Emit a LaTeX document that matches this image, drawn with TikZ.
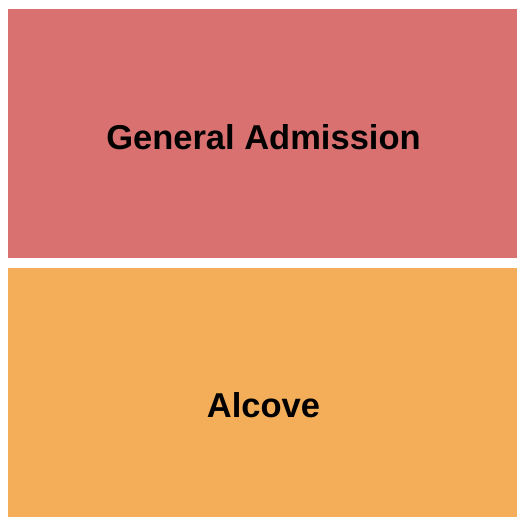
\documentclass[tikz,border=0pt]{standalone}
\usepackage{fontspec}
\setmainfont{Liberation Sans}
\definecolor{gacol}{HTML}{D87170}
\definecolor{alcol}{HTML}{F4AE5A}
\tikzset{
  section/.style={draw=none, inner sep=0pt, outer sep=0pt},
  label/.style={font=\fontsize{34.5}{40}\selectfont\bfseries, text=black, inner sep=0pt, anchor=base}
}
\begin{document}
\begin{tikzpicture}[x=1pt,y=1pt]
\useasboundingbox (0,0) rectangle (525,525);
\fill[white] (0,0) rectangle (525,525);
\fill[gacol] (8,267) rectangle (517,516);
\fill[alcol] (8,8) rectangle (517,257);
\node[label] (ga) at (263.5,375.7) {General Admission};
\node[label] (al) at (263.5,107.7) {Alcove};
\end{tikzpicture}
\end{document}
